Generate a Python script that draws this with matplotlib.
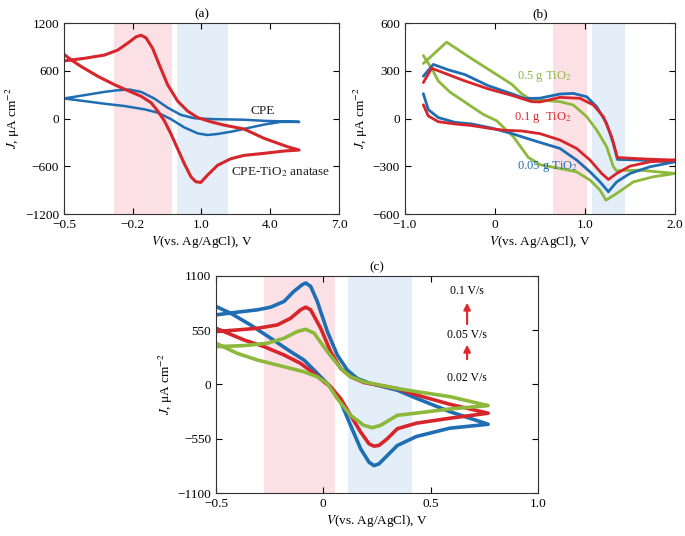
import matplotlib
matplotlib.use("Agg")
import matplotlib.pyplot as plt

plt.rcParams['font.family'] = ['Liberation Serif', 'DejaVu Serif']
plt.rcParams['mathtext.fontset'] = 'stix'
plt.rcParams['axes.unicode_minus'] = True

RED = '#d7262b'
BLUE = '#1f6db3'
GREEN = '#8cb83c'
PINK = '#fbe1e5'
LBLUE = '#e3eef8'

# ---------------- Panel (a) data ----------------
a_tio2_v = [-0.5, -0.41, -0.323, -0.265, -0.214, -0.186, -0.164, -0.142, -0.113, -0.084, -0.048, -0.004, 0.039,
            0.083, 0.141, 0.199, 0.286, 0.374, 0.475, 0.526,
            0.461, 0.374, 0.286, 0.228, 0.170, 0.126, 0.097, 0.075, 0.054, 0.025, -0.004, -0.033, -0.062,
            -0.091, -0.120, -0.164, -0.222, -0.280, -0.352, -0.425, -0.468, -0.5]
a_tio2_j = [724, 757, 798, 861, 964, 1026, 1047, 1014, 881, 674, 426, 219, 95,
            12, -41, -83, -132, -250, -354, -396,
            -408, -437, -463, -505, -588, -712, -803, -794, -732, -567, -381, -194, -29,
            95, 199, 281, 352, 426, 530, 654, 736, 807]
a_cpe_v = [-0.5, -0.41, -0.323, -0.265, -0.214, -0.164, -0.106, -0.048, 0.010, 0.068, 0.155, 0.286, 0.374, 0.526,
           0.446, 0.374, 0.302, 0.230, 0.170, 0.126, 0.083, 0.025, -0.033, -0.091, -0.149, -0.236, -0.323, -0.41, -0.5]
a_cpe_j = [252, 294, 335, 356, 364, 335, 252, 137, 46, 4, -8, -15, -29, -42,
           -42, -75, -120, -165, -194, -207, -186, -112, -8, 74, 116, 157, 186, 219, 252]
a_xticks = [-0.5, -0.2, 0.1, 0.4, 0.7]
a_xticklabels = ['−0.5', '−0.2', '1.0', '4.0', '7.0']
a_yticks = [-1200, -600, 0, 600, 1200]
a_yticklabels = ['−1200', '−600', '0', '600', '1200']

# ---------------- Panel (b) data ----------------
b_005_v = [-0.796, -0.685, -0.519, -0.333, -0.074, 0.185, 0.333, 0.5, 0.722, 0.87, 1.019, 1.13, 1.24, 1.315, 1.36, 1.6, 2.0,
           1.722, 1.5, 1.352, 1.26, 1.167, 1.056, 0.907, 0.722, 0.5, 0.407, 0.185, -0.037, -0.259, -0.444, -0.63, -0.741, -0.796]
b_005_j = [266, 340, 306, 276, 206, 156, 126, 128, 154, 158, 137, 74, -30, -156, -257, -261, -272,
           -303, -345, -398, -460, -398, -335, -261, -188, -150, -134, -94, -60, -34, -24, 6, 56, 156]
b_01_v = [-0.796, -0.704, -0.519, -0.333, -0.074, 0.185, 0.407, 0.5, 0.722, 0.944, 1.093, 1.204, 1.296, 1.36, 1.7, 2.0,
          1.722, 1.5, 1.352, 1.26, 1.185, 1.056, 0.907, 0.722, 0.5, 0.296, 0.111, -0.037, -0.259, -0.444, -0.63, -0.741, -0.796]
b_01_j = [226, 316, 276, 236, 186, 146, 106, 104, 133, 127, 85, 12, -114, -245, -255, -261,
          -272, -299, -345, -383, -345, -261, -188, -135, -95, -78, -74, -64, -44, -34, -20, 16, 86]
b_05_v = [-0.796, -0.537, -0.259, -0.037, 0.185, 0.296, 0.407, 0.5, 0.722, 0.87, 1.019, 1.13, 1.24, 1.315, 1.35, 1.6, 2.0,
          1.759, 1.537, 1.352, 1.233, 1.167, 1.056, 0.907, 0.722, 0.5, 0.37, 0.204, 0.111, 0.019, -0.13, -0.315, -0.5, -0.63, -0.685, -0.796]
b_05_j = [346, 480, 376, 296, 216, 156, 116, 116, 106, 85, 12, -72, -177, -303, -328, -324, -345,
          -366, -398, -471, -513, -450, -387, -335, -314, -290, -244, -114, -64, -14, 26, 96, 166, 236, 296, 396]
b_xticks = [-1.0, 0.0, 1.0, 2.0]
b_xticklabels = ['−1.0', '0', '1.0', '2.0']
b_yticks = [-600, -300, 0, 300, 600]
b_yticklabels = ['−600', '−300', '0', '300', '600']

# ---------------- Panel (c) data ----------------
c_01_v = [-0.5, -0.401, -0.307, -0.245, -0.183, -0.137, -0.098, -0.082, -0.059, -0.028, 0.019, 0.065, 0.112, 0.158,
          0.220, 0.345, 0.434, 0.589, 0.768,
          0.589, 0.434, 0.345, 0.298, 0.259, 0.236, 0.213, 0.174, 0.127, 0.081, 0.034, 0.003, -0.043, -0.090,
          -0.152, -0.245, -0.339, -0.432, -0.5]
c_01_j = [706, 733, 757, 784, 842, 944, 1012, 1029, 995, 842, 537, 299, 146, 61,
          10, -58, -140, -275, -403,
          -443, -527, -618, -720, -805, -822, -788, -652, -414, -177, -24, 44, 146, 248,
          333, 469, 604, 723, 791]
c_005_v = [-0.5, -0.401, -0.307, -0.214, -0.152, -0.106, -0.082, -0.059, -0.012, 0.034, 0.081, 0.127, 0.189,
           0.345, 0.434, 0.589, 0.768,
           0.589, 0.434, 0.345, 0.298, 0.259, 0.236, 0.213, 0.174, 0.127, 0.081, 0.034, 0.003, -0.043, -0.106,
           -0.183, -0.276, -0.370, -0.5]
c_005_j = [537, 553, 570, 604, 672, 757, 784, 757, 570, 333, 163, 78, 20,
           -41, -106, -200, -291,
           -342, -392, -448, -550, -618, -625, -601, -482, -312, -143, -24, 27, 112, 214,
           299, 384, 452, 570]
c_002_v = [-0.5, -0.370, -0.261, -0.183, -0.121, -0.082, -0.043, 0.019, 0.081, 0.127, 0.189, 0.345, 0.434, 0.589, 0.768,
           0.589, 0.434, 0.345, 0.267, 0.228, 0.189, 0.127, 0.065, 0.019, -0.028, -0.090, -0.183, -0.307, -0.401, -0.5]
c_002_j = [384, 394, 418, 469, 537, 560, 520, 333, 163, 78, 27, -41, -72, -123, -214,
           -248, -290, -312, -414, -438, -414, -312, -143, 10, 78, 129, 180, 248, 316, 418]
c_xticks = [-0.5, 0.0, 0.5, 1.0]
c_xticklabels = ['−0.5', '0', '0.5', '1.0']
c_yticks = [-1100, -550, 0, 550, 1100]
c_yticklabels = ['−1100', '−550', '0', '550', '1100']

fig = plt.figure(figsize=(6.85, 5.36), dpi=100)
axa = fig.add_axes([0.0934, 0.6007, 0.4015, 0.3563])
axb = fig.add_axes([0.5912, 0.6007, 0.3942, 0.3563])
axc = fig.add_axes([0.3153, 0.0802, 0.4700, 0.4049])

FS = 9.5
LKW = dict(solid_joinstyle='round', solid_capstyle='round')

def style(ax, title, xt, xtl, yt, ytl, xlim, ylim):
    ax.set_xlim(*xlim)
    ax.set_ylim(*ylim)
    ax.set_xticks(xt)
    ax.set_xticklabels(xtl)
    ax.set_yticks(yt)
    ax.set_yticklabels(ytl)
    ax.tick_params(direction='in', top=True, right=True, labelsize=FS, length=4, width=0.8)
    for s in ax.spines.values():
        s.set_linewidth(0.8)
        s.set_color('#333333')
    ax.set_title(title, fontsize=FS, pad=4)
    ax.set_xlabel(r'$V$(vs. Ag/AgCl), V', fontsize=FS, labelpad=2)
    ax.set_ylabel(r'$J$, μA cm$^{-2}$', fontsize=FS, labelpad=2)

# (a)
axa.axvspan(-0.282, -0.029, color=PINK, lw=0, zorder=0)
axa.axvspan(-0.007, 0.216, color=LBLUE, lw=0, zorder=0)
axa.plot(a_cpe_v, a_cpe_j, color=BLUE, lw=1.8, **LKW)
axa.plot(a_tio2_v, a_tio2_j, color=RED, lw=2.2, **LKW)
axa.text(0.315, 100, 'CPE', fontsize=FS, color='#222222', va='center')
axa.text(0.227, -675, r'CPE-TiO$_2$ anatase', fontsize=FS, color='#222222', va='center')
style(axa, '(a)', a_xticks, a_xticklabels, a_yticks, a_yticklabels, (-0.5, 0.7), (-1200, 1200))

# (b)
axb.axvspan(0.648, 1.019, color=PINK, lw=0, zorder=0)
axb.axvspan(1.074, 1.444, color=LBLUE, lw=0, zorder=0)
axb.plot(b_05_v, b_05_j, color=GREEN, lw=2.0, **LKW)
axb.plot(b_005_v, b_005_j, color=BLUE, lw=2.0, **LKW)
axb.plot(b_01_v, b_01_j, color=RED, lw=2.0, **LKW)
axb.text(0.244, 262, r'0.5 g TiO$_2$', fontsize=FS - 0.5, color=GREEN, va='center')
axb.text(0.211, 7, r'0.1 g  TiO$_2$', fontsize=FS - 0.5, color=RED, va='center')
axb.text(0.244, -302, r'0.05 g TiO$_2$', fontsize=FS - 0.5, color=BLUE, va='center')
style(axb, '(b)', b_xticks, b_xticklabels, b_yticks, b_yticklabels, (-1.0, 2.0), (-600, 600))

# (c)
axc.axvspan(-0.275, 0.054, color=PINK, lw=0, zorder=0)
axc.axvspan(0.116, 0.411, color=LBLUE, lw=0, zorder=0)
axc.plot(c_01_v, c_01_j, color=BLUE, lw=2.6, **LKW)
axc.plot(c_005_v, c_005_j, color=RED, lw=2.6, **LKW)
axc.plot(c_002_v, c_002_j, color=GREEN, lw=2.6, **LKW)
axc.text(0.67, 948, '0.1 V/s', fontsize=FS - 1, ha='center', va='center')
axc.text(0.67, 502, '0.05 V/s', fontsize=FS - 1, ha='center', va='center')
axc.text(0.67, 66, '0.02 V/s', fontsize=FS - 1, ha='center', va='center')
axc.annotate('', xy=(0.67, 857), xytext=(0.67, 583),
             arrowprops=dict(arrowstyle='-|>', color='#e0282c', lw=1.5, mutation_scale=10))
axc.annotate('', xy=(0.67, 431), xytext=(0.67, 228),
             arrowprops=dict(arrowstyle='-|>', color='#e0282c', lw=1.5, mutation_scale=10))
style(axc, '(c)', c_xticks, c_xticklabels, c_yticks, c_yticklabels, (-0.5, 1.0), (-1100, 1100))

fig.savefig('out.png', dpi=100)
